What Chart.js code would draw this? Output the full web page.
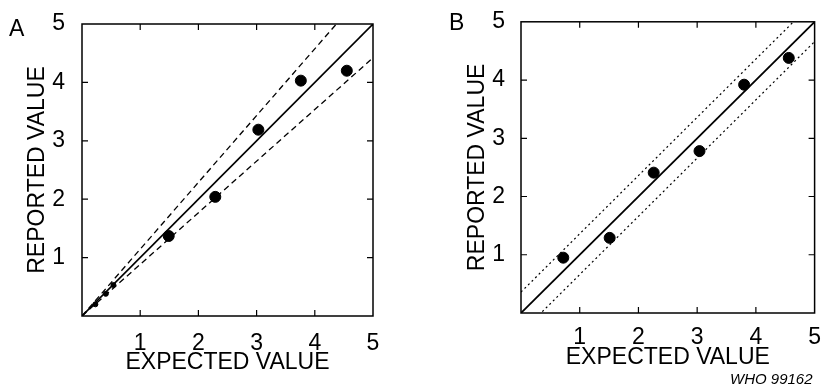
<!DOCTYPE html>
<html>
<head>
<meta charset="utf-8">
<script src="https://cdn.jsdelivr.net/npm/chart.js@4.4.1/dist/chart.umd.min.js"></script>
<style>
  html, body { margin: 0; padding: 0; background: #fff; }
  #wrap { position: relative; width: 824px; height: 386px; overflow: hidden; font-family: 'Liberation Sans', Arial, sans-serif; }
  .panel { position: absolute; top: 0; width: 412px; height: 386px; }
  .tag { position: absolute; font-size: 23px; color: #000; line-height: 1; }
  #who { position: absolute; left: 730px; top: 371px; font-size: 15px; font-style: italic; color: #000; line-height: 1; }
</style>
</head>
<body>
<div id="wrap">
  <div class="panel" style="left:0"><canvas id="chartA"></canvas></div>
  <div class="panel" style="left:412px"><canvas id="chartB"></canvas></div>
  <div class="tag" style="left:9px; top:17px">A</div>
  <div class="tag" style="left:449px; top:11px">B</div>
  <div id="who">WHO 99162</div>
</div>
<script>
// axis ticks 0..5 (0 left unlabelled)
const tickVals = [0, 1, 2, 3, 4, 5];

// panel A
const expectedA = [1.49, 2.29, 3.03, 3.76, 4.55];
const reportedA = [1.37, 2.04, 3.19, 4.03, 4.20];
const smallExpA = [0.23, 0.41, 0.54];
const smallRepA = [0.20, 0.38, 0.53];
const lineX     = [0, 5];
const identity  = [0, 5];
const upperA    = [0, 5.72];
const lowerA    = [0, 4.42];

// panel B
const expectedB = [0.72, 1.51, 2.26, 3.04, 3.80, 4.56];
const reportedB = [0.95, 1.29, 2.41, 2.78, 3.92, 4.38];
const upperB    = [0.36, 5.36];
const lowerB    = [-0.34, 4.66];

const FONT = "'Liberation Sans', Arial, sans-serif";
const pts = (xs, ys) => xs.map((x, i) => ({ x, y: ys[i] }));

// box round the plot area with short inward ticks on all four sides
const boxPlugin = {
  id: 'box',
  afterDatasetsDraw(chart) {
    const { ctx, chartArea: a, scales: { x, y } } = chart;
    ctx.save();
    ctx.strokeStyle = '#000';
    ctx.lineWidth = 1.5;
    ctx.strokeRect(a.left, a.top, a.right - a.left, a.bottom - a.top);
    ctx.lineWidth = 1.2;
    ctx.beginPath();
    tickVals.slice(1, -1).forEach(v => {
      const px = x.getPixelForValue(v);
      ctx.moveTo(px, a.bottom); ctx.lineTo(px, a.bottom - 6);
      ctx.moveTo(px, a.top);    ctx.lineTo(px, a.top + 6);
      const py = y.getPixelForValue(v);
      ctx.moveTo(a.left, py);  ctx.lineTo(a.left + 6, py);
      ctx.moveTo(a.right, py); ctx.lineTo(a.right - 6, py);
    });
    ctx.stroke();
    ctx.restore();
  }
};

function lineSet(xs, ys, dash, width) {
  return {
    data: pts(xs, ys),
    showLine: true,
    borderColor: '#000',
    borderWidth: width,
    borderDash: dash,
    pointRadius: 0,
    clip: 0
  };
}

function makeOpts(cfg) {
  const tickFont = { family: FONT, size: 23 };
  const titleFont = { family: FONT, size: 23 };
  return {
    responsive: true,
    maintainAspectRatio: false,
    animation: false,
    events: [],
    layout: { padding: { top: cfg.top, right: cfg.right, left: 0, bottom: 0 } },
    plugins: { legend: { display: false }, tooltip: { enabled: false } },
    scales: {
      x: {
        type: 'linear', min: 0, max: 5,
        afterBuildTicks: s => { s.ticks = tickVals.map(v => ({ value: v })); },
        afterFit: s => { s.height = cfg.xHeight; },
        grid: { display: false },
        border: { display: false },
        ticks: { color: '#000', font: tickFont, padding: cfg.xPad, maxRotation: 0,
                 callback: v => v === 0 ? '' : v },
        title: { display: true, text: 'EXPECTED VALUE', color: '#000', font: titleFont,
                 padding: { top: 0, bottom: cfg.xTitlePad } }
      },
      y: {
        type: 'linear', min: 0, max: 5,
        afterBuildTicks: s => { s.ticks = tickVals.map(v => ({ value: v })); },
        afterFit: s => { s.width = cfg.yWidth; },
        grid: { display: false },
        border: { display: false },
        ticks: { color: '#000', font: tickFont, padding: cfg.yPad,
                 callback: v => v === 0 ? '' : v },
        title: { display: true, text: 'REPORTED VALUE', color: '#000', font: titleFont,
                 padding: { top: cfg.yTitlePad, bottom: 0 } }
      }
    }
  };
}

new Chart(document.getElementById('chartA'), {
  type: 'scatter',
  data: {
    datasets: [
      { data: pts(expectedA, reportedA), backgroundColor: '#000', borderColor: '#000', pointRadius: 5.5 },
      { data: pts(smallExpA, smallRepA), backgroundColor: '#000', borderColor: '#000', pointRadius: 2.5 },
      lineSet(lineX, identity, [], 1.6),
      lineSet(lineX, upperA, [6, 4], 1.3),
      lineSet(lineX, lowerA, [6, 4], 1.3)
    ]
  },
  options: makeOpts({ top: 24, right: 39, xHeight: 70, yWidth: 82, xPad: 6, yPad: 9, xTitlePad: 10, yTitlePad: 24 }),
  plugins: [boxPlugin]
});

new Chart(document.getElementById('chartB'), {
  type: 'scatter',
  data: {
    datasets: [
      { data: pts(expectedB, reportedB), backgroundColor: '#000', borderColor: '#000', pointRadius: 5.5 },
      lineSet(lineX, identity, [], 1.8),
      lineSet(lineX, upperB, [2, 3], 1.2),
      lineSet(lineX, lowerB, [2, 3], 1.2)
    ]
  },
  options: makeOpts({ top: 20, right: 7, xHeight: 73, yWidth: 109, xPad: 3, yPad: 8, xTitlePad: 15, yTitlePad: 52 }),
  plugins: [boxPlugin]
});
</script>
</body>
</html>
